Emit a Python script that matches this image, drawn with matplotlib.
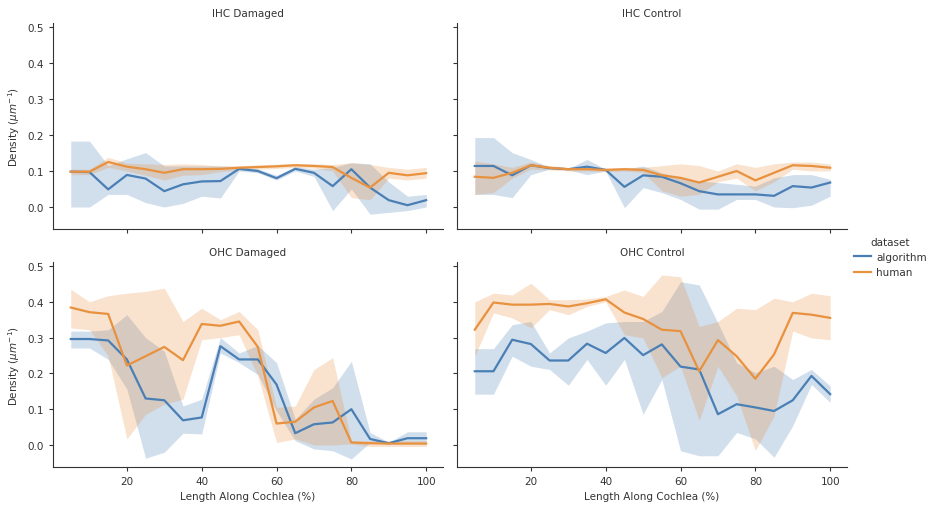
import numpy as np
import matplotlib
matplotlib.use("Agg")
import matplotlib.pyplot as plt

x = [5, 10, 15, 20, 25, 30, 35, 40, 45, 50, 55, 60, 65, 70, 75, 80, 85, 90, 95, 100]
datasets = ["algorithm", "human"]
panels = ["IHC Damaged", "IHC Control", "OHC Damaged", "OHC Control"]

# IHC Damaged
ihc_dam_alg = [0.098, 0.097, 0.049, 0.089, 0.079, 0.044, 0.063, 0.071, 0.072, 0.106, 0.100, 0.080, 0.106, 0.095, 0.058, 0.105, 0.054, 0.019, 0.005, 0.019]
ihc_dam_alg_hi = [0.183, 0.183, 0.115, 0.134, 0.151, 0.114, 0.114, 0.114, 0.114, 0.112, 0.106, 0.088, 0.112, 0.105, 0.110, 0.123, 0.120, 0.070, 0.030, 0.035]
ihc_dam_alg_lo = [0.000, 0.000, 0.035, 0.035, 0.012, 0.000, 0.010, 0.030, 0.025, 0.100, 0.095, 0.075, 0.100, 0.085, -0.010, 0.050, -0.020, -0.015, -0.010, 0.000]
ihc_dam_hum = [0.098, 0.098, 0.125, 0.112, 0.105, 0.095, 0.105, 0.105, 0.106, 0.109, 0.111, 0.113, 0.116, 0.114, 0.111, 0.081, 0.054, 0.095, 0.088, 0.094]
ihc_dam_hum_hi = [0.105, 0.105, 0.138, 0.122, 0.120, 0.118, 0.120, 0.118, 0.114, 0.115, 0.117, 0.119, 0.121, 0.120, 0.118, 0.123, 0.118, 0.110, 0.105, 0.110]
ihc_dam_hum_lo = [0.090, 0.090, 0.110, 0.100, 0.088, 0.075, 0.088, 0.090, 0.098, 0.103, 0.105, 0.107, 0.110, 0.108, 0.100, 0.026, 0.020, 0.080, 0.075, 0.080]

# IHC Control
ihc_con_alg = [0.114, 0.114, 0.088, 0.116, 0.108, 0.105, 0.112, 0.103, 0.056, 0.088, 0.084, 0.066, 0.044, 0.035, 0.035, 0.035, 0.031, 0.058, 0.054, 0.068]
ihc_con_alg_hi = [0.193, 0.193, 0.151, 0.132, 0.110, 0.107, 0.132, 0.105, 0.105, 0.114, 0.095, 0.082, 0.072, 0.068, 0.063, 0.058, 0.081, 0.090, 0.090, 0.077]
ihc_con_alg_lo = [0.035, 0.035, 0.026, 0.090, 0.105, 0.103, 0.090, 0.100, -0.002, 0.054, 0.040, 0.021, -0.006, -0.006, 0.021, 0.021, 0.000, -0.002, 0.005, 0.030]
ihc_con_hum = [0.084, 0.081, 0.095, 0.116, 0.109, 0.105, 0.105, 0.103, 0.105, 0.103, 0.088, 0.081, 0.068, 0.084, 0.100, 0.074, 0.095, 0.116, 0.114, 0.109]
ihc_con_hum_hi = [0.128, 0.120, 0.110, 0.125, 0.115, 0.110, 0.110, 0.108, 0.110, 0.110, 0.115, 0.120, 0.115, 0.100, 0.120, 0.110, 0.120, 0.125, 0.125, 0.120]
ihc_con_hum_lo = [0.035, 0.040, 0.080, 0.105, 0.103, 0.100, 0.100, 0.098, 0.100, 0.096, 0.045, 0.030, 0.035, 0.070, 0.080, 0.045, 0.070, 0.105, 0.100, 0.100]

# OHC Damaged
ohc_dam_alg = [0.296, 0.296, 0.292, 0.239, 0.130, 0.125, 0.069, 0.077, 0.276, 0.239, 0.239, 0.169, 0.033, 0.058, 0.063, 0.100, 0.017, 0.005, 0.019, 0.019]
ohc_dam_alg_hi = [0.318, 0.318, 0.322, 0.364, 0.300, 0.262, 0.109, 0.128, 0.300, 0.257, 0.278, 0.230, 0.072, 0.128, 0.160, 0.234, 0.035, 0.008, 0.037, 0.037]
ohc_dam_alg_lo = [0.271, 0.271, 0.239, 0.156, -0.037, -0.020, 0.033, 0.031, 0.257, 0.230, 0.197, 0.095, 0.012, -0.011, -0.016, -0.039, 0.007, 0.003, 0.007, 0.003]
ohc_dam_hum = [0.384, 0.371, 0.366, 0.222, 0.248, 0.274, 0.237, 0.338, 0.333, 0.345, 0.274, 0.060, 0.065, 0.105, 0.123, 0.007, 0.005, 0.004, 0.004, 0.004]
ohc_dam_hum_hi = [0.435, 0.400, 0.417, 0.424, 0.429, 0.438, 0.345, 0.382, 0.350, 0.373, 0.322, 0.105, 0.109, 0.211, 0.244, 0.012, 0.012, 0.012, 0.012, 0.012]
ohc_dam_hum_lo = [0.327, 0.322, 0.248, 0.017, 0.086, 0.114, 0.128, 0.294, 0.300, 0.308, 0.193, 0.007, 0.017, 0.000, 0.000, 0.003, -0.004, -0.004, -0.004, -0.004]

# OHC Control
ohc_con_alg = [0.206, 0.206, 0.294, 0.282, 0.236, 0.236, 0.283, 0.257, 0.299, 0.251, 0.281, 0.219, 0.211, 0.086, 0.114, 0.105, 0.095, 0.125, 0.193, 0.142]
ohc_con_alg_hi = [0.269, 0.269, 0.336, 0.345, 0.257, 0.299, 0.318, 0.341, 0.345, 0.345, 0.373, 0.456, 0.447, 0.341, 0.230, 0.202, 0.220, 0.183, 0.211, 0.165]
ohc_con_alg_lo = [0.142, 0.142, 0.248, 0.220, 0.211, 0.167, 0.239, 0.167, 0.239, 0.086, 0.183, -0.016, -0.030, -0.030, 0.035, 0.017, -0.034, 0.054, 0.169, 0.119]
ohc_con_hum = [0.322, 0.398, 0.392, 0.392, 0.394, 0.387, 0.396, 0.407, 0.370, 0.352, 0.322, 0.318, 0.206, 0.293, 0.248, 0.185, 0.253, 0.369, 0.364, 0.355]
ohc_con_hum_hi = [0.400, 0.424, 0.419, 0.452, 0.406, 0.406, 0.408, 0.415, 0.433, 0.415, 0.475, 0.470, 0.331, 0.345, 0.382, 0.378, 0.410, 0.400, 0.424, 0.417]
ohc_con_hum_lo = [0.248, 0.369, 0.355, 0.327, 0.378, 0.364, 0.387, 0.400, 0.308, 0.299, 0.188, 0.220, 0.068, 0.220, 0.137, -0.016, 0.081, 0.318, 0.299, 0.294]

series = {
    "IHC Damaged": [(ihc_dam_alg, ihc_dam_alg_lo, ihc_dam_alg_hi), (ihc_dam_hum, ihc_dam_hum_lo, ihc_dam_hum_hi)],
    "IHC Control": [(ihc_con_alg, ihc_con_alg_lo, ihc_con_alg_hi), (ihc_con_hum, ihc_con_hum_lo, ihc_con_hum_hi)],
    "OHC Damaged": [(ohc_dam_alg, ohc_dam_alg_lo, ohc_dam_alg_hi), (ohc_dam_hum, ohc_dam_hum_lo, ohc_dam_hum_hi)],
    "OHC Control": [(ohc_con_alg, ohc_con_alg_lo, ohc_con_alg_hi), (ohc_con_hum, ohc_con_hum_lo, ohc_con_hum_hi)],
}

colors = ["#4a7fb5", "#e8913f"]
fs = 7.5
plt.rcParams["font.family"] = ["DejaVu Sans"]
plt.rcParams["axes.edgecolor"] = "#333333"
plt.rcParams["xtick.color"] = "#333333"
plt.rcParams["ytick.color"] = "#333333"
plt.rcParams["text.color"] = "#333333"
plt.rcParams["axes.labelcolor"] = "#333333"

fig = plt.figure(figsize=(9.35, 5.1), dpi=100)
W, H = 935, 510
lefts = [53, 457]
tops = [24.4, 263.4]
bottoms = [229.6, 467.5]
width = 390

axes = []
for i, name in enumerate(panels):
    r, c = divmod(i, 2)
    l = lefts[c]
    ax = fig.add_axes([l / W, 1 - bottoms[r] / H, width / W, (bottoms[r] - tops[r]) / H])
    axes.append(ax)
    for k, (m, lo, hi) in enumerate(series[name]):
        ax.fill_between(x, lo, hi, color=colors[k], alpha=0.25, linewidth=0)
        ax.plot(x, m, color=colors[k], linewidth=1.6, label=datasets[k])
    ax.set_xlim(0.25, 104.5)
    ax.set_ylim(-0.06, 0.51)
    ax.set_yticks([0.0, 0.1, 0.2, 0.3, 0.4, 0.5])
    ax.set_xticks([20, 40, 60, 80, 100])
    ax.spines["top"].set_visible(False)
    ax.spines["right"].set_visible(False)
    ax.tick_params(labelsize=fs, length=3, width=0.8)
    ax.set_title(name, fontsize=fs, pad=5)
    if c == 1:
        ax.tick_params(labelleft=False)
    else:
        ax.set_ylabel("Density ($\\mu m^{-1}$)", fontsize=fs)
    if r == 0:
        ax.tick_params(labelbottom=False)
    else:
        ax.set_xlabel("Length Along Cochlea (%)", fontsize=fs)

handles, labels = axes[0].get_legend_handles_labels()
leg = fig.legend(handles, labels, title="dataset", loc="center left",
                 bbox_to_anchor=(852 / W, 1 - 258 / H), frameon=False,
                 fontsize=fs, title_fontsize=fs, handlelength=1.6,
                 handletextpad=0.5, borderaxespad=0, borderpad=0.2)

fig.savefig("out.png", dpi=100)
